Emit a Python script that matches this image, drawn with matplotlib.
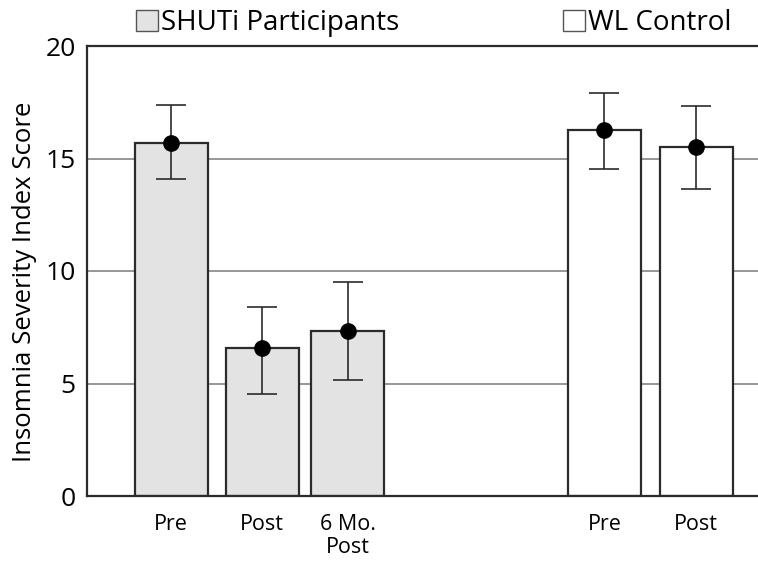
import matplotlib.pyplot as plt
from matplotlib.patches import Patch

# values
labels = ["Pre", "Post", "6 Mo.\nPost", "Pre", "Post"]
positions = [1.0, 2.01, 2.96, 5.81, 6.83]
means = [15.7, 6.6, 7.33, 16.25, 15.5]
err_low = [1.62, 2.05, 2.17, 1.72, 1.87]
err_high = [1.68, 1.78, 2.18, 1.66, 1.82]
groups = ["SHUTi Participants", "SHUTi Participants", "SHUTi Participants", "WL Control", "WL Control"]
group_colors = {"SHUTi Participants": "#e3e3e3", "WL Control": "white"}

plt.rcParams['font.family'] = ['Open Sans', 'DejaVu Sans']
dark = "#2b2b2b"

fig = plt.figure(figsize=(7.58, 5.64), dpi=100)
ax = fig.add_axes([87 / 758, 68 / 564, 1 - 87 / 758 + 0.01, 450 / 564])

ax.bar(positions, means, width=0.81, color=[group_colors[g] for g in groups],
       edgecolor=dark, linewidth=1.6, zorder=2)
ax.errorbar(positions, means, yerr=[err_low, err_high], fmt='o', color='black',
            markersize=11, ecolor=dark, elinewidth=1.2, capsize=11, capthick=1.2, zorder=3)

ax.set_ylim(0, 20)
ax.set_xlim(0.067, 7.6)
ax.set_yticks([0, 5, 10, 15, 20])
ax.set_xticks(positions)
ax.set_xticklabels(labels, fontsize=15.5, linespacing=1.1)
ax.tick_params(axis='y', length=0, labelsize=19, pad=8)
ax.tick_params(axis='x', length=0, pad=13)
ax.yaxis.grid(True, color='#7a7a7a', linewidth=1.1, zorder=0)
ax.set_axisbelow(True)
ax.set_ylabel("Insomnia Severity Index Score", fontsize=18.5)
ax.yaxis.set_label_coords(-0.074, 0.475)

for side in ['top', 'left', 'bottom']:
    ax.spines[side].set_color(dark)
    ax.spines[side].set_linewidth(1.6)
ax.spines['right'].set_visible(False)

leg1 = fig.legend(handles=[Patch(facecolor=group_colors["SHUTi Participants"], edgecolor='#555555', linewidth=1)],
                  labels=["SHUTi Participants"], loc='center left',
                  bbox_to_anchor=(136 / 758, 1 - 23 / 564), frameon=False, fontsize=20,
                  handlelength=0.8, handleheight=0.8, handletextpad=0.1, borderpad=0, borderaxespad=0)
leg2 = fig.legend(handles=[Patch(facecolor=group_colors["WL Control"], edgecolor='#555555', linewidth=1)],
                  labels=["WL Control"], loc='center left',
                  bbox_to_anchor=(563 / 758, 1 - 23 / 564), frameon=False, fontsize=20,
                  handlelength=0.8, handleheight=0.8, handletextpad=0.1, borderpad=0, borderaxespad=0)

fig.savefig("out.png", dpi=100)
